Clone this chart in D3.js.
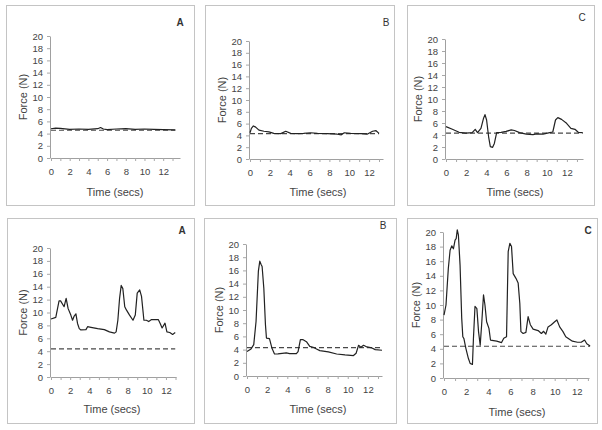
<!DOCTYPE html>
<html>
<head>
<meta charset="utf-8">
<script src="https://cdn.jsdelivr.net/npm/d3@7"></script>
<style>
  body { margin: 0; background: #fff; }
  svg { display: block; font-family: "Liberation Sans", Arial, sans-serif; }
</style>
</head>
<body>
<svg width="602" height="430"></svg>
<script>
// panel letters
var letters = ["A", "B", "C", "A", "B", "C"];
var yTicks = [0, 2, 4, 6, 8, 10, 12, 14, 16, 18, 20];
var xLabels = [0, 2, 4, 6, 8, 10, 12];
var baseline = [4.55, 4.3, 4.3, 4.35, 4.3, 4.35]; // dashed reference force

// force traces, [time, force]
var topA = [[0,4.8],[0.5,4.9],[1,4.85],[2,4.7],[3,4.75],[4,4.7],[5,4.8],[5.3,5.0],[5.6,4.75],[6,4.65],
  [7,4.75],[8,4.8],[9,4.7],[10,4.75],[11,4.7],[12,4.65],[13.3,4.6]];
var topB = [[0,4.45],[0.14,5.2],[0.34,5.6],[0.57,5.4],[0.9,4.9],[1.4,4.7],[1.9,4.6],[2.4,4.35],[3.1,4.3],
  [3.6,4.7],[4.1,4.35],[4.75,4.3],[5.4,4.35],[6.1,4.45],[6.8,4.35],[7.8,4.3],[8.8,4.2],[9.2,4.1],
  [9.5,4.45],[10.14,4.35],[11.2,4.3],[11.8,4.2],[12.35,4.7],[12.7,4.8],[13.0,4.35]];
var topC = [[0,5.4],[0.63,4.95],[1.3,4.45],[1.97,4.3],[2.6,4.4],[2.9,4.95],[3.13,4.4],[3.47,5.1],[3.73,6.8],
  [3.87,7.4],[4.03,6.5],[4.23,3.7],[4.4,2.05],[4.63,1.95],[4.8,2.6],[5.03,4.4],[5.47,4.45],[5.97,4.6],
  [6.47,4.85],[6.8,4.75],[7.3,4.4],[7.97,4.15],[8.63,4.05],[9.0,4.2],[9.63,4.15],[10.3,4.4],[10.6,4.5],
  [10.87,6.5],[11.1,6.9],[11.47,6.6],[11.97,5.95],[12.4,5.1],[12.8,4.95],[13.13,4.45],[13.57,4.4]];
var botA = [[0,9.0],[0.5,9.25],[0.84,11.8],[1.0,11.8],[1.37,10.9],[1.58,12.2],[1.79,10.6],[2.07,9.6],
  [2.25,8.8],[2.42,9.45],[2.6,9.8],[2.77,8.3],[2.95,7.5],[3.12,7.3],[3.65,7.35],[3.82,7.8],[4.17,7.7],
  [4.87,7.5],[5.57,7.35],[6.1,7.0],[6.63,6.8],[6.8,7.0],[6.98,8.8],[7.16,12.2],[7.33,14.2],[7.5,13.7],
  [7.7,10.9],[7.87,10.4],[8.2,9.6],[8.56,8.8],[8.8,9.6],[9.0,13.0],[9.26,13.5],[9.45,12.5],[9.7,8.8],
  [9.96,8.8],[10.2,8.6],[10.5,8.9],[11.2,8.9],[11.4,8.3],[11.6,7.6],[11.9,8.35],[12.1,7.0],[12.4,6.9],
  [12.7,6.6],[12.97,6.9]];
var botB = [[0,3.7],[0.4,4.1],[0.67,4.75],[0.9,8.3],[1.13,15.9],[1.27,17.4],[1.4,16.9],[1.5,16.6],
  [1.67,13.3],[1.83,7.8],[1.93,5.75],[2.23,5.65],[2.47,4.25],[2.73,3.33],[3.07,3.35],[3.9,3.5],
  [4.23,3.4],[4.9,3.4],[5.07,3.7],[5.3,5.5],[5.57,5.5],[5.9,5.2],[6.23,4.5],[6.57,4.35],[6.9,4.1],
  [7.23,3.85],[8.07,3.65],[8.9,3.33],[9.73,3.2],[10.57,3.1],[10.83,3.45],[11.07,4.65],[11.3,4.35],
  [11.57,4.65],[11.9,4.4],[12.4,4.25],[12.73,4.0],[13.4,3.9]];
var botC = [[0,8.6],[0.18,10.0],[0.39,15.0],[0.55,17.5],[0.7,18.1],[0.85,17.7],[1.0,18.9],[1.1,19.1],
  [1.2,20.3],[1.3,19.6],[1.45,15.5],[1.6,8.2],[1.7,5.65],[1.8,5.4],[1.97,4.1],[2.2,2.7],[2.36,2.0],
  [2.57,1.85],[2.66,5.4],[2.8,9.8],[2.97,9.5],[3.12,6.35],[3.27,4.5],[3.4,7.3],[3.57,11.4],[3.7,10.0],
  [3.85,7.7],[4.06,6.8],[4.2,5.2],[4.76,5.05],[5.2,4.85],[5.4,5.45],[5.65,5.65],[5.8,17.3],[5.95,18.45],
  [6.1,18.0],[6.25,14.3],[6.5,13.65],[6.7,13.0],[6.85,10.2],[6.95,6.35],[7.15,6.1],[7.4,6.25],[7.6,8.4],
  [7.8,7.3],[8.05,6.7],[8.5,6.5],[8.8,6.1],[9.0,6.4],[9.2,6.0],[9.4,7.0],[9.7,7.3],[10.0,7.7],
  [10.2,7.95],[10.45,7.0],[10.75,6.35],[11.0,5.65],[11.3,5.35],[11.6,5.05],[12.06,4.9],[12.4,4.9],
  [12.7,5.2],[12.9,4.7],[13.2,4.4]];
var traces = [topA, topB, topC, botA, botB, botC];

// layout: frame box, axis pixel extents, x end value
var panels = [
  {box: [6, 5, 194, 205],   x0: 51,  x1: 180, xEnd: 13.8, y0: 158, y1: 36,  letter: [180, 22], bold: true,  titleX: 115, titleY: 192},
  {box: [205, 5, 394, 205], x0: 250, x1: 383, xEnd: 13.4, y0: 159, y1: 41,  letter: [386, 22], bold: false, titleX: 318, titleY: 192},
  {box: [407, 5, 594, 205], x0: 446, x1: 583, xEnd: 13.6, y0: 159, y1: 39,  letter: [582, 17], bold: false, titleX: 515, titleY: 192},
  {box: [7, 218, 194, 423], x0: 51,  x1: 176, xEnd: 13.05, y0: 377, y1: 248, letter: [182, 230], bold: true,  titleX: 112, titleY: 409},
  {box: [204, 218, 396, 423], x0: 247, x1: 382, xEnd: 13.4, y0: 376, y1: 244, letter: [383, 225], bold: false, titleX: 318, titleY: 409},
  {box: [407, 218, 597, 423], x0: 444, x1: 589, xEnd: 13.1, y0: 378, y1: 232, letter: [588, 230], bold: true,  titleX: 517, titleY: 412}
];

var svg = d3.select("svg");
var xMinor = d3.range(0, 14);

panels.forEach(function(p, i) {
  var g = svg.append("g");
  g.append("rect")
    .attr("x", p.box[0] + 0.5).attr("y", p.box[1] + 0.5)
    .attr("width", p.box[2] - p.box[0]).attr("height", p.box[3] - p.box[1])
    .attr("fill", "none").attr("stroke", "#c4c4c4");

  var x = d3.scaleLinear().domain([0, p.xEnd]).range([p.x0, p.x1]);
  var y = d3.scaleLinear().domain([0, 20]).range([p.y0, p.y1]);

  var ya = g.append("g").attr("transform", "translate(" + (p.x0 - 1) + ",0)")
    .call(d3.axisLeft(y).tickValues(yTicks).tickSize(3).tickSizeOuter(0).tickPadding(4));
  var xa = g.append("g").attr("transform", "translate(0," + p.y0 + ")")
    .call(d3.axisBottom(x).tickValues(xMinor).tickSize(3).tickSizeOuter(0).tickPadding(7)
      .tickFormat(function(d) { return xLabels.indexOf(d) >= 0 ? d : ""; }));
  [ya, xa].forEach(function(a) {
    a.select(".domain").attr("stroke", "#a0a0a0");
    a.selectAll(".tick line").attr("stroke", "#a8a8a8");
    a.selectAll("text").attr("fill", "#444").style("font-size", "9.5px");
  });

  var tr = traces[i];
  var last = tr[tr.length - 1][0];
  g.append("line")
    .attr("x1", x(0)).attr("x2", x(last))
    .attr("y1", y(baseline[i])).attr("y2", y(baseline[i]))
    .attr("stroke", "#484848").attr("stroke-width", 1.2).attr("stroke-dasharray", "5,3");

  g.append("path")
    .datum(tr)
    .attr("fill", "none").attr("stroke", "#222").attr("stroke-width", 1.2)
    .attr("stroke-linejoin", "round")
    .attr("d", d3.line().x(function(d) { return x(d[0]); }).y(function(d) { return y(d[1]); }));

  g.append("text")
    .attr("x", p.letter[0]).attr("y", p.letter[1]).attr("dy", "0.35em")
    .attr("text-anchor", "middle").attr("fill", "#333")
    .style("font-size", "10px").style("font-weight", p.bold ? "bold" : "normal")
    .text(letters[i]);

  g.append("text")
    .attr("x", p.titleX).attr("y", p.titleY).attr("dy", "0.35em")
    .attr("text-anchor", "middle").attr("fill", "#444").style("font-size", "11px")
    .text("Time (secs)");

  g.append("text")
    .attr("transform", "translate(" + (p.x0 - 28) + "," + ((p.y0 + p.y1) / 2) + ") rotate(-90)")
    .attr("dy", "0.35em").attr("text-anchor", "middle").attr("fill", "#444").style("font-size", "11px")
    .text("Force (N)");
});
</script>
</body>
</html>
